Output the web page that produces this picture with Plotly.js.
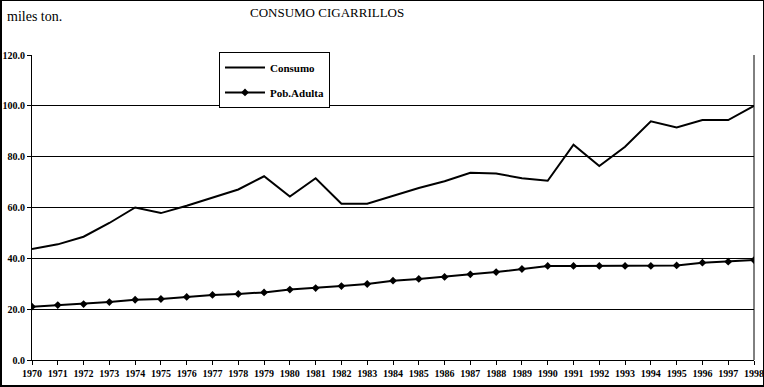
<!DOCTYPE html>
<html>
<head>
<meta charset="utf-8">
<script src="https://cdn.plot.ly/plotly-3.0.1.min.js"></script>
<style>
html,body{margin:0;padding:0;background:#fff;}
#wrap{position:relative;width:764px;height:387px;}
#chart{position:absolute;left:0;top:0;width:764px;height:387px;}
#frame{position:absolute;left:0;top:0;width:764px;height:387px;box-sizing:border-box;border:1px solid #000;border-left:2px solid #000;border-bottom:2px solid #000;pointer-events:none;}
</style>
</head>
<body>
<div id="wrap"><div id="chart"></div><div id="frame"></div></div>
<script>
const years = ['1970','1971','1972','1973','1974','1975','1976','1977','1978','1979','1980','1981','1982','1983','1984','1985','1986','1987','1988','1989','1990','1991','1992','1993','1994','1995','1996','1997','1998'];
const consumo = [43.7,45.5,48.5,53.9,60.0,57.8,60.7,63.9,67.1,72.3,64.3,71.5,61.5,61.5,64.6,67.7,70.3,73.7,73.4,71.5,70.5,84.7,76.3,83.9,93.9,91.5,94.4,94.4,100.0];
const pobAdulta = [21.0,21.6,22.0,22.8,23.7,24.0,24.8,25.6,26.0,26.6,27.7,28.3,29.1,29.9,31.2,31.9,32.7,33.7,34.6,35.8,37.0,37.0,37.0,37.0,37.0,37.2,38.3,38.7,39.3];
const yTicks = [0,20,40,60,80,100,120];
const yTickLabels = ['0.0','20.0','40.0','60.0','80.0','100.0','120.0'];

const serif = 'Liberation Serif, Times New Roman, serif';
const traces = [
  {x: years, y: consumo, name: 'Consumo', type: 'scatter', mode: 'lines', legendgroup: 'a',
   line: {color: '#000', width: 2}},
  {x: years, y: pobAdulta, name: 'Pob.Adulta', type: 'scatter', mode: 'lines+markers', legendgroup: 'b',
   line: {color: '#000', width: 2}, marker: {symbol: 'diamond', size: 6, color: '#000'}}
];
const layout = {
  width: 764, height: 387,
  margin: {l: 32, r: 10, t: 55, b: 27},
  paper_bgcolor: '#fff', plot_bgcolor: '#fff',
  showlegend: true,
  legend: {x: 0.259, y: 1.01, xanchor: 'left', yanchor: 'top', bgcolor: '#fff',
    bordercolor: '#000', borderwidth: 1, traceorder: 'grouped',
    font: {family: serif, size: 11, color: '#000', weight: 'bold'},
    tracegroupgap: 6, itemwidth: 40},
  xaxis: {type: 'category', range: [0, 28], showgrid: false, showline: true,
    linecolor: '#000', linewidth: 1, mirror: false, ticks: 'outside', ticklen: 4,
    tickcolor: '#000', tickwidth: 1, tickangle: 0,
    tickfont: {family: serif, size: 10, color: '#000', weight: 'bold'}, zeroline: false},
  yaxis: {range: [0, 120], tickvals: yTicks, ticktext: yTickLabels, showgrid: true,
    gridcolor: '#000', gridwidth: 1, showline: true, linecolor: '#000', linewidth: 1,
    ticks: 'outside', ticklen: 4, tickcolor: '#000',
    tickfont: {family: serif, size: 10, color: '#000', weight: 'bold'}, zeroline: false},
  shapes: [
    {type: 'line', xref: 'paper', yref: 'paper', x0: 1, x1: 1, y0: 0, y1: 1,
     line: {color: '#000', width: 1}}
  ],
  annotations: [
    {text: 'miles ton.', xref: 'paper', yref: 'paper', x: -0.037, y: 1.125,
     xanchor: 'left', yanchor: 'middle', showarrow: false,
     font: {family: serif, size: 14, color: '#000'}},
    {text: 'CONSUMO CIGARRILLOS', xref: 'paper', yref: 'paper', x: 0.409, y: 1.138,
     xanchor: 'center', yanchor: 'middle', showarrow: false,
     font: {family: serif, size: 13, color: '#000'}}
  ]
};
Plotly.newPlot('chart', traces, layout, {displayModeBar: false, staticPlot: true});
</script>
</body>
</html>
